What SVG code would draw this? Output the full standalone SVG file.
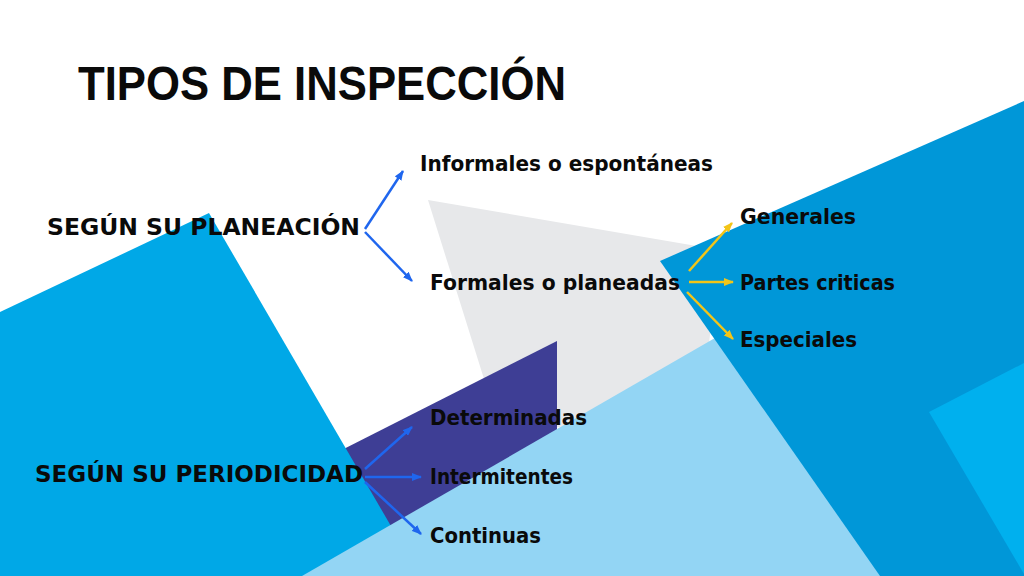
<svg xmlns="http://www.w3.org/2000/svg" width="1024" height="576" viewBox="0 0 1024 576">
<defs>
<style>
.t{font-family:"DejaVu Sans","Liberation Sans",Arial,sans-serif;font-weight:bold;fill:#0a0a0a}
.ttl{font-family:"Liberation Sans",Arial,sans-serif;font-weight:bold;fill:#0a0a0a;font-size:49px}
.h{font-size:23px}
.b{font-size:21px}
.blue{stroke:#1f66ee;stroke-width:2.5;fill:none}
.yel{stroke:#f3c518;stroke-width:2.5;fill:none}
</style>
<marker id="ab" viewBox="0 0 10 8" refX="9" refY="4" markerWidth="10" markerHeight="8" markerUnits="userSpaceOnUse" orient="auto">
<path d="M0,0 L10,4 L0,8 Z" fill="#1f66ee"/>
</marker>
<marker id="ay" viewBox="0 0 10 8" refX="9" refY="4" markerWidth="10" markerHeight="8" markerUnits="userSpaceOnUse" orient="auto">
<path d="M0,0 L10,4 L0,8 Z" fill="#f3c518"/>
</marker>
</defs>
<rect width="1024" height="576" fill="#ffffff"/>
<g id="background">
<polygon points="428,200 720,250 700,420 500,430" fill="#e7e8ea"/>
<polygon points="320,461 557,341 557,440 380,540" fill="#3e3e95"/>
<polygon points="0,312 209,213 420,576 0,576" fill="#00a8e7"/>
<polygon points="302,576 800,289 900,576" fill="#93d5f4"/>
<polygon points="660,261 1024,101 1024,576 880,576" fill="#0097d8"/>
<polygon points="929,412 1024,363 1024,574" fill="#00b0ee"/>
</g>
<g id="title">
<text class="ttl" x="78" y="100" textLength="488" lengthAdjust="spacingAndGlyphs">TIPOS DE INSPECCIÓN</text>
</g>
<g id="node-planeacion">
<text class="t h" x="47" y="235" textLength="313" lengthAdjust="spacingAndGlyphs">SEGÚN SU PLANEACIÓN</text>
</g>
<g id="node-periodicidad">
<text class="t h" x="35" y="482" textLength="328" lengthAdjust="spacingAndGlyphs">SEGÚN SU PERIODICIDAD</text>
</g>
<g id="node-informales">
<text class="t b" x="420" y="171" textLength="293" lengthAdjust="spacingAndGlyphs">Informales o espontáneas</text>
</g>
<g id="node-formales">
<text class="t b" x="430" y="290" textLength="250" lengthAdjust="spacingAndGlyphs">Formales o planeadas</text>
</g>
<g id="node-generales">
<text class="t b" x="740" y="224" textLength="116" lengthAdjust="spacingAndGlyphs">Generales</text>
</g>
<g id="node-partes">
<text class="t b" x="740" y="290" textLength="155" lengthAdjust="spacingAndGlyphs">Partes criticas</text>
</g>
<g id="node-especiales">
<text class="t b" x="740" y="347" textLength="117" lengthAdjust="spacingAndGlyphs">Especiales</text>
</g>
<g id="node-determinadas">
<text class="t b" x="430" y="425" textLength="157" lengthAdjust="spacingAndGlyphs">Determinadas</text>
</g>
<g id="node-intermitentes">
<text class="t b" x="430" y="484" textLength="143" lengthAdjust="spacingAndGlyphs">Intermitentes</text>
</g>
<g id="node-continuas">
<text class="t b" x="430" y="543" textLength="111" lengthAdjust="spacingAndGlyphs">Continuas</text>
</g>
<g id="connectors">
<line class="blue" x1="365" y1="229" x2="403" y2="171" marker-end="url(#ab)"/>
<line class="blue" x1="365" y1="232" x2="412" y2="281" marker-end="url(#ab)"/>
<line class="blue" x1="365" y1="469" x2="412" y2="427" marker-end="url(#ab)"/>
<line class="blue" x1="365" y1="477" x2="421" y2="477" marker-end="url(#ab)"/>
<line class="blue" x1="365" y1="482" x2="421" y2="534" marker-end="url(#ab)"/>
<line class="yel" x1="689" y1="271" x2="732" y2="223" marker-end="url(#ay)"/>
<line class="yel" x1="689" y1="282" x2="733" y2="282" marker-end="url(#ay)"/>
<line class="yel" x1="687" y1="292" x2="733" y2="339" marker-end="url(#ay)"/>
</g>
</svg>
